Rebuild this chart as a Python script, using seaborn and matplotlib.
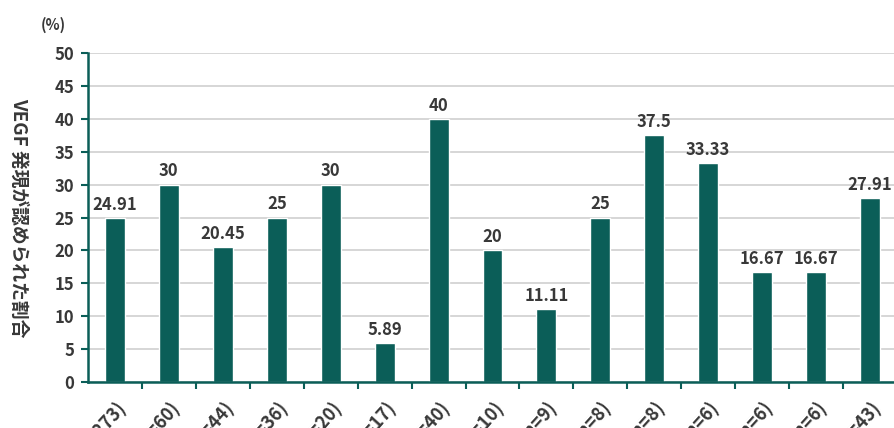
import matplotlib
matplotlib.use("Agg")
import matplotlib.pyplot as plt
import seaborn as sns
import pandas as pd

categories = ["(n=273)", "(n=60)", "(n=44)", "(n=36)", "(n=20)", "(n=17)", "(n=40)",
              "(n=10)", "(n=9)", "(n=8)", "(n=8)", "(n=6)", "(n=6)", "(n=6)", "(n=43)"]
values = [24.91, 30, 20.45, 25, 30, 5.89, 40, 20, 11.11, 25, 37.5, 33.33, 16.67, 16.67, 27.91]
value_labels = ["24.91", "30", "20.45", "25", "30", "5.89", "40", "20", "11.11", "25",
                "37.5", "33.33", "16.67", "16.67", "27.91"]
yticks = [0, 5, 10, 15, 20, 25, 30, 35, 40, 45, 50]

sns.set_theme(style="white")
plt.rcParams['font.family'] = ['Noto Sans CJK JP', 'DejaVu Sans']

bar_color = "#0b5e58"
text_color = "#383838"
num_weight = "semibold"

df = pd.DataFrame({"cat": categories, "val": values})
df["pos"] = range(len(df))

fig = plt.figure(figsize=(8.94, 4.28), dpi=100)
ax = fig.add_axes([88/894, 1 - 382/428, (897-88)/894, (382-53)/428])

sns.barplot(data=df, x="pos", y="val", color=bar_color, width=0.37, ax=ax,
            saturation=1, native_scale=True)
ax.set_xlim(-0.5, len(df) - 0.5)
ax.set_ylim(0, 50)
ax.set_yticks(yticks)
ax.set_yticklabels([str(t) for t in yticks], fontsize=12, color=text_color, fontweight=num_weight)
ax.yaxis.grid(True, color="#cfcfcf", linewidth=1.2)
ax.set_axisbelow(True)

# x ticks at category boundaries, labels at centers
ax.set_xticks([i + 0.5 for i in range(len(df) - 1)])
ax.set_xticklabels([])
ax.set_xticks(range(len(df)), minor=True)
ax.set_xticklabels(categories, minor=True, rotation=48, ha="right",
                   rotation_mode="anchor", fontsize=13, color=text_color, fontweight=num_weight)
ax.tick_params(axis="x", which="minor", length=0, pad=11)
ax.tick_params(axis="x", which="major", length=5, width=1.5, color=bar_color, direction="out")
ax.tick_params(axis="y", length=5, width=1.5, color=bar_color, direction="out", pad=5)
ax.tick_params(bottom=True, left=True)
ax.xaxis.set_tick_params(which="both", bottom=True)

for s in ["top", "right"]:
    ax.spines[s].set_visible(False)
for s in ["left", "bottom"]:
    ax.spines[s].set_color(bar_color)
    ax.spines[s].set_linewidth(1.8)

for i, (v, lab) in enumerate(zip(values, value_labels)):
    ax.annotate(lab, (i, v), xytext=(0, 3), textcoords="offset points",
                ha="center", va="bottom", fontsize=12, color=text_color, fontweight=num_weight)

ax.set_xlabel("")
ax.set_ylabel("VEGF 発現が認められた割合", rotation=270, fontsize=13.5,
              color=text_color, fontweight="bold", va="center")
ax.yaxis.set_label_coords(-(88 - 19) / (897 - 88), 0.5)
fig.text(53/894, 1 - 25/428, "(%)", ha="center", va="center", fontsize=10.5,
         color=text_color, fontweight=num_weight)

fig.savefig("out.png", dpi=100)
